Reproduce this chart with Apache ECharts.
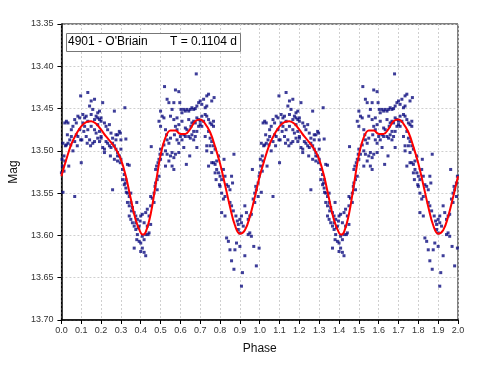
<!DOCTYPE html>
<html><head><meta charset="utf-8">
<script src="https://cdn.jsdelivr.net/npm/echarts@6/dist/echarts.min.js"></script>
<style>html,body{margin:0;padding:0;background:#fff}#c{width:482px;height:369px}</style>
</head><body><div id="c"></div>
<script>
// Observed points for one rotation (phase 0..1); the chart shows two cycles (phase and phase+1)
const obsPhase = [
0.000,0.008,0.017,0.013,0.025,0.033,0.020,0.042,0.008,0.030,0.050,0.058,0.017,0.033,0.067,0.075,0.083,0.092,0.047,0.067,0.058,0.037,0.067,0.025,0.075,0.083,0.092,0.097,0.050,0.080,0.100,0.003,0.005,0.013,
0.097,0.133,0.142,0.150,0.167,0.183,0.192,0.208,0.108,0.117,0.125,0.133,0.150,0.158,0.167,0.175,0.183,0.192,0.200,0.117,0.133,0.150,0.167,0.183,0.200,0.125,0.142,0.158,0.175,0.192,0.200,0.108,0.113,0.147,0.167,0.183,0.103,0.130,0.192,
0.200,0.217,0.225,0.233,0.242,0.250,0.258,0.267,0.275,0.283,0.292,0.297,0.300,0.208,0.217,0.233,0.242,0.250,0.258,0.267,0.275,0.283,0.292,0.217,0.247,0.267,0.283,0.297,0.320,0.325,0.258,0.225,0.275,0.283,0.300,
0.300,0.308,0.317,0.325,0.333,0.342,0.308,0.317,0.325,0.333,0.342,0.350,0.333,0.342,0.350,0.358,0.367,0.375,0.380,0.342,0.350,0.358,0.367,0.375,0.383,0.392,0.400,0.408,0.375,0.383,0.392,0.400,0.408,0.417,0.425,0.400,0.380,0.367,0.408,0.417,0.387,0.397,0.353,0.327,0.322,
0.417,0.425,0.433,0.442,0.433,0.442,0.425,0.450,0.450,0.458,0.467,0.472,0.475,0.483,0.492,0.483,0.475,0.480,0.487,0.492,0.497,0.500,0.453,0.467,0.450,0.437,
0.500,0.508,0.517,0.492,0.500,0.525,0.530,0.533,0.542,0.517,0.525,0.533,0.508,0.500,0.525,0.542,0.550,0.558,0.567,0.575,0.567,0.583,0.592,0.575,0.583,0.592,0.567,0.583,0.550,0.558,0.567,0.533,0.542,0.520,0.575,0.592,0.597,0.603,0.570,0.550,0.558,0.600,0.592,
0.608,0.617,0.625,0.633,0.642,0.650,0.658,0.667,0.675,0.683,0.692,0.700,0.608,0.617,0.625,0.633,0.642,0.650,0.658,0.667,0.675,0.683,0.692,0.700,0.708,0.717,0.733,0.742,0.733,0.725,0.680,0.642,0.658,0.667,0.675,0.683,0.692,0.700,0.617,0.630,0.647,0.683,0.653,0.608,0.625,0.667,0.708,
0.708,0.717,0.725,0.733,0.742,0.750,0.758,0.767,0.742,0.750,0.758,0.767,0.775,0.750,0.758,0.733,0.742,0.758,0.767,0.775,0.783,0.783,0.792,0.800,0.775,0.770,0.758,0.767,0.725,0.733,0.792,0.780,0.797,0.820,0.825,0.817,0.808,
0.800,0.808,0.817,0.825,0.833,0.842,0.850,0.858,0.863,0.870,0.850,0.858,0.867,0.808,0.825,0.833,0.842,0.850,0.858,0.870,0.875,0.883,0.892,0.900,0.908,0.892,0.900,0.908,0.917,0.913,0.908,0.925,0.900,0.880,0.887,
0.925,0.933,0.942,0.950,0.958,0.950,0.958,0.942,0.967,0.975,0.980,0.983,0.992,0.997,0.970,0.983,0.997,0.963,0.975,0.992
];
const obsMag = [
13.526,13.549,13.512,13.506,13.493,13.491,13.494,13.487,13.491,13.481,13.475,13.471,13.467,13.467,13.463,13.467,13.459,13.461,13.493,13.489,13.500,13.518,13.554,13.465,13.481,13.483,13.475,13.487,13.483,13.494,13.514,13.510,13.518,13.524,
13.435,13.431,13.447,13.441,13.439,13.455,13.453,13.443,13.457,13.461,13.459,13.465,13.457,13.451,13.463,13.459,13.461,13.463,13.461,13.471,13.475,13.471,13.475,13.469,13.465,13.483,13.487,13.491,13.479,13.477,13.483,13.467,13.477,13.494,13.489,13.485,13.487,13.491,13.489,
13.485,13.467,13.471,13.475,13.469,13.479,13.485,13.453,13.487,13.481,13.477,13.479,13.487,13.496,13.498,13.491,13.494,13.496,13.491,13.494,13.498,13.502,13.506,13.502,13.506,13.510,13.512,13.514,13.449,13.486,13.546,13.489,13.481,13.506,13.498,
13.510,13.522,13.528,13.534,13.516,13.517,13.534,13.540,13.544,13.550,13.554,13.550,13.561,13.565,13.561,13.567,13.573,13.577,13.561,13.577,13.581,13.585,13.589,13.585,13.581,13.589,13.577,13.575,13.593,13.599,13.607,13.609,13.615,13.620,13.624,13.619,13.605,13.615,13.601,13.605,13.591,13.583,13.571,13.549,13.538,
13.585,13.573,13.569,13.577,13.589,13.597,13.599,13.565,13.554,13.556,13.550,13.542,13.538,13.534,13.530,13.546,13.522,13.518,13.514,13.510,13.504,13.498,13.495,13.561,13.587,13.599,
13.453,13.459,13.461,13.465,13.471,13.475,13.481,13.487,13.491,13.493,13.500,13.504,13.504,13.510,13.518,13.512,13.506,13.502,13.508,13.504,13.522,13.487,13.491,13.471,13.475,13.469,13.463,13.461,13.459,13.451,13.443,13.439,13.443,13.424,13.428,13.430,13.443,13.451,13.481,13.485,13.518,13.483,13.502,
13.487,13.481,13.483,13.475,13.483,13.485,13.481,13.487,13.483,13.477,13.471,13.469,13.455,13.451,13.453,13.451,13.453,13.451,13.449,13.451,13.450,13.447,13.443,13.441,13.445,13.439,13.435,13.433,13.447,13.449,13.409,13.463,13.467,13.465,13.467,13.461,13.463,13.465,13.496,13.516,13.506,13.496,13.471,13.465,13.473,13.477,13.471,
13.459,13.465,13.457,13.459,13.463,13.467,13.469,13.471,13.477,13.485,13.489,13.494,13.498,13.494,13.502,13.500,13.518,13.514,13.514,13.516,13.512,13.522,13.526,13.530,13.526,13.437,13.441,13.465,13.483,13.494,13.506,13.534,13.540,13.510,13.530,13.522,13.534,
13.542,13.550,13.557,13.554,13.540,13.542,13.546,13.530,13.538,13.504,13.561,13.565,13.571,13.573,13.577,13.603,13.607,13.617,13.630,13.640,13.617,13.609,13.587,13.581,13.577,13.593,13.597,13.585,13.589,13.644,13.660,13.624,13.613,13.577,13.583,
13.565,13.573,13.581,13.577,13.575,13.597,13.601,13.599,13.557,13.550,13.542,13.546,13.538,13.530,13.613,13.636,13.615,13.522,13.561,13.554
];
// Fitted light curve for one cycle
const fitPhase = [0.000,0.025,0.050,0.075,0.100,0.125,0.150,0.175,0.200,0.225,0.250,0.275,0.300,0.325,0.350,0.375,0.400,0.410,0.425,0.450,0.475,0.500,0.525,0.550,0.575,0.600,0.625,0.650,0.675,0.700,0.725,0.750,0.775,0.800,0.825,0.850,0.875,0.900,0.925,0.950,0.975];
const fitMag   = [13.530,13.510,13.492,13.480,13.471,13.466,13.465,13.468,13.475,13.483,13.490,13.498,13.510,13.530,13.557,13.582,13.597,13.599,13.596,13.575,13.540,13.505,13.484,13.476,13.476,13.480,13.480,13.474,13.465,13.463,13.468,13.478,13.495,13.515,13.540,13.566,13.588,13.598,13.594,13.578,13.555];
const cycles = [0, 1];
const labelText = "4901 - O'Briain";
const periodText = "T = 0.1104 d";

const scatterData = [];
cycles.forEach(c => obsPhase.forEach((p, i) => scatterData.push([p + c, obsMag[i]])));
const lineData = [];
cycles.forEach(c => fitPhase.forEach((p, i) => lineData.push([p + c, fitMag[i]])));
lineData.push([2, fitMag[0]]);

const FONT = '"Liberation Sans", Arial, sans-serif';
const chart = echarts.init(document.getElementById('c'), null, {renderer: 'canvas'});
chart.setOption({
  animation: false,
  backgroundColor: '#fff',
  grid: {left: 60, right: 24, top: 24, bottom: 49, show: true, borderColor: '#000', borderWidth: 1, backgroundColor: 'transparent'},
  xAxis: {
    type: 'value', min: 0, max: 2, interval: 0.1,
    name: 'Phase', nameLocation: 'middle', nameGap: 23,
    nameTextStyle: {fontFamily: FONT, fontSize: 12, color: '#111'},
    axisLine: {show: true, onZero: false, lineStyle: {color: '#000', width: 1.5}},
    axisTick: {show: true, length: 4, lineStyle: {color: '#000'}},
    axisLabel: {fontFamily: FONT, fontSize: 9, color: '#333', margin: 6, formatter: v => v.toFixed(1)},
    splitLine: {show: true, lineStyle: {color: '#cfcfcf', type: [2, 2], width: 1}}
  },
  yAxis: {
    type: 'value', inverse: true, min: 13.35, max: 13.70, interval: 0.05,
    name: 'Mag', nameLocation: 'middle', nameGap: 29,
    nameTextStyle: {fontFamily: FONT, fontSize: 12, color: '#111'},
    axisLine: {show: true, onZero: false, lineStyle: {color: '#000', width: 1.5}},
    axisTick: {show: true, length: 4, lineStyle: {color: '#000'}},
    axisLabel: {fontFamily: FONT, fontSize: 9, color: '#333', margin: 8, formatter: v => v.toFixed(2)},
    splitLine: {show: true, lineStyle: {color: '#cfcfcf', type: [2, 2], width: 1}}
  },
  series: [
    {type: 'scatter', data: scatterData, symbol: 'rect', symbolSize: 3,
     itemStyle: {color: '#0c0c80'}, z: 2},
    {type: 'line', data: lineData, smooth: 0.4, showSymbol: false,
     lineStyle: {color: '#ff0000', width: 2}, z: 3}
  ],
  graphic: [
    {type: 'rect', left: 66, top: 33, shape: {width: 174, height: 18},
     style: {fill: '#fff', stroke: '#777', lineWidth: 1}, z: 10},
    {type: 'text', left: 68, top: 36, style: {text: labelText, font: '12px ' + FONT, fill: '#000'}, z: 11},
    {type: 'text', left: 170, top: 36, style: {text: periodText, font: '12px ' + FONT, fill: '#000'}, z: 11}
  ]
});
</script></body></html>
